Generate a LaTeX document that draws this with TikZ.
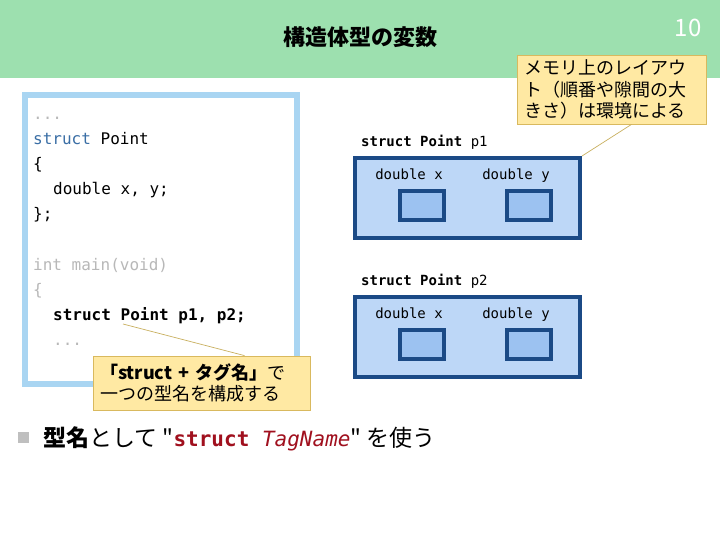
\documentclass[tikz,border=0pt]{standalone}
\usepackage{fontspec}
\setmonofont{DejaVu Sans Mono}
\newfontfamily\jp{Noto Sans CJK JP}

\definecolor{headgreen}{HTML}{9DE0AF}
\definecolor{framecol}{HTML}{A9D5F2}
\definecolor{kwblue}{HTML}{3A6EA5}
\definecolor{codegray}{HTML}{B8B8B8}
\definecolor{navy}{HTML}{1B4A86}
\definecolor{boxfill}{HTML}{BDD7F7}
\definecolor{cellfill}{HTML}{9CC2F1}
\definecolor{calloutfill}{HTML}{FFE9A3}
\definecolor{calloutline}{HTML}{D9B95E}
\definecolor{pointerline}{HTML}{C9B060}
\definecolor{darkred}{HTML}{A0101E}
\definecolor{bulletgray}{HTML}{BFBFBF}

\tikzset{
	code/.style={anchor=base west, inner sep=0pt, font=\fontsize{16}{18}\ttfamily},
	dim/.style={text=codegray},
	membox/.style={draw=navy, line width=4pt, fill=boxfill, inner sep=0pt, minimum width=225pt, minimum height=80pt},
	cell/.style={draw=navy, line width=4pt, fill=cellfill, inner sep=0pt, minimum width=44pt, minimum height=29pt},
	memlabel/.style={anchor=base, inner sep=0pt, font=\fontsize{14}{16}\ttfamily},
	callout/.style={draw=calloutline, line width=0.8pt, fill=calloutfill, align=left, inner xsep=7pt, inner ysep=0pt, font=\fontsize{18}{21.5}\jp},
	pointer/.style={draw=pointerline, line width=0.7pt},
}

\begin{document}
\begin{tikzpicture}[x=1pt,y=-1pt]
	\useasboundingbox[fill=white] (0,0) rectangle (720,540);
	% header
	\fill[headgreen] (0,0) rectangle (720,78);
	\node[font=\fontsize{22}{24}\jp\bfseries] (title) at (360,37) {構造体型の変数};
	\node[font=\fontsize{24}{26}\jp, text=white] (pagenum) at (688,28) {10};

	% source code
	\node[draw=framecol, line width=6pt, fill=white, minimum width=272pt, minimum height=289pt, inner sep=0pt] (frame) at (161,239.5) {};
	\node[code, dim] (l1) at (33,120) {...};
	\node[code] (l2) at (33,145) {\textcolor{kwblue}{struct} Point};
	\node[code] (l3) at (33,170) {\{};
	\node[code] (l4) at (53,195) {double x, y;};
	\node[code] (l5) at (33,220) {\};};
	\node[code, dim] (l6) at (33,270) {int main(void)};
	\node[code, dim] (l7) at (33,295) {\{};
	\node[code] (l8) at (53,320) {\bfseries struct Point p1, p2;};
	\node[code, dim] (l9) at (53,345) {...};

	% variables in memory
	\node[memlabel, anchor=base west] (name1) at (361,147) {\bfseries struct Point \mdseries p1};
	\node[membox] (p1) at (467.5,198) {};
	\node[memlabel] (p1x) at (409,180) {double x};
	\node[memlabel] (p1y) at (516,180) {double y};
	\node[cell] (p1xc) at (422,205.5) {};
	\node[cell] (p1yc) at (529,205.5) {};

	\node[memlabel, anchor=base west] (name2) at (361,285) {\bfseries struct Point \mdseries p2};
	\node[membox] (p2) at (467.5,337) {};
	\node[memlabel] (p2x) at (409,318) {double x};
	\node[memlabel] (p2y) at (516,318) {double y};
	\node[cell] (p2xc) at (422,344) {};
	\node[cell] (p2yc) at (529,344) {};

	% callouts
	\coordinate (tip1) at (123,324);
	\node[callout, text width=203pt, minimum height=54pt] (tag) at (201.5,383)
		{\textbf{「struct + タグ名」}で\\一つの型名を構成する};
	\draw[pointer] (tip1) -- ([xshift=43pt]tag.north);

	\node[callout, text width=175pt, minimum height=69pt] (layout) at (611.5,89.5)
		{メモリ上のレイアウ\\ト（順番や隙間の大\\きさ）は環境による};
	\draw[pointer] ([xshift=20pt]layout.south) -- (p1.north east);

	% bullet
	\node[fill=bulletgray, minimum size=11pt, inner sep=0pt] (bullet) at (23.5,437) {};
	\node[anchor=base west, inner sep=0pt, font=\fontsize{23}{26}\jp] (rule) at (43,446)
		{\textbf{型名}として "\textcolor{darkred}{\fontsize{21}{24}\ttfamily\bfseries struct \mdseries\itshape TagName}" を使う};
\end{tikzpicture}
\end{document}
